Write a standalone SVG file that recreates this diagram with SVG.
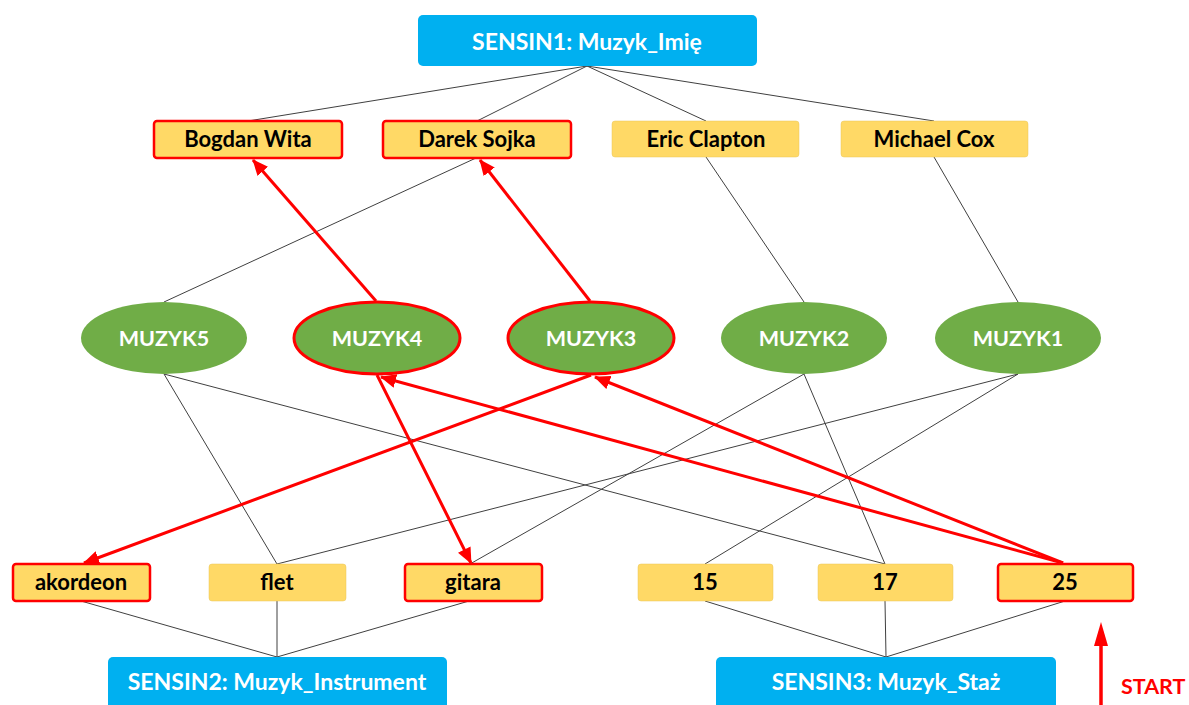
<svg xmlns="http://www.w3.org/2000/svg" width="1189" height="705" viewBox="0 0 1189 705">
  <defs>
    <style>
      .thin { stroke: #404040; stroke-width: 1; fill: none; }
      .path { stroke: #FF0000; stroke-width: 3; fill: none; marker-end: url(#arrow); }
      .sensin rect { fill: #00B0F0; }
      .sensin text { fill: #FFFFFF; font-family: Lato, "Open Sans", "Liberation Sans", sans-serif; font-weight: bold; font-size: 23px; text-anchor: middle; }
      .val rect { fill: #FFD966; stroke: #E8C45A; stroke-width: 0.5; }
      .val.hit rect { stroke: #FF0000; stroke-width: 2.5; }
      .val text { fill: #000000; font-family: Lato, "Open Sans", "Liberation Sans", sans-serif; font-weight: bold; font-size: 22px; text-anchor: middle; }
      .obj ellipse { fill: #70AD47; }
      .obj.hit ellipse { stroke: #FF0000; stroke-width: 3; }
      .obj text { fill: #FFFFFF; font-family: Lato, "Open Sans", "Liberation Sans", sans-serif; font-weight: bold; font-size: 21.5px; text-anchor: middle; }
    </style>
    <marker id="arrow" markerUnits="userSpaceOnUse" markerWidth="16" markerHeight="14" refX="15" refY="7" orient="auto">
      <path d="M0,0 L16,7 L0,14 z" fill="#FF0000"/>
    </marker>
  </defs>
  <rect width="1189" height="705" fill="#FFFFFF"/>

  <!-- connectors -->
  <g id="connectors">
    <!-- SENSIN1 to names -->
    <line class="thin" x1="587" y1="66" x2="248" y2="121"/>
    <line class="thin" x1="587" y1="66" x2="477" y2="121"/>
    <line class="thin" x1="587" y1="66" x2="706" y2="121"/>
    <line class="thin" x1="587" y1="66" x2="934" y2="121"/>
    <!-- names to musicians -->
    <line class="thin" x1="476" y1="158" x2="164" y2="302"/>
    <line class="thin" x1="706" y1="157" x2="804" y2="302"/>
    <line class="thin" x1="934" y1="157" x2="1018" y2="302"/>
    <!-- musicians to values -->
    <line class="thin" x1="164" y1="374" x2="277" y2="564"/>
    <line class="thin" x1="164" y1="374" x2="885" y2="564"/>
    <line class="thin" x1="804" y1="374" x2="470" y2="564"/>
    <line class="thin" x1="804" y1="374" x2="885" y2="564"/>
    <line class="thin" x1="1018" y1="374" x2="277" y2="564"/>
    <line class="thin" x1="1018" y1="374" x2="705" y2="564"/>
    <!-- values to SENSIN2 / SENSIN3 -->
    <line class="thin" x1="81" y1="601" x2="277" y2="657"/>
    <line class="thin" x1="277" y1="601" x2="277" y2="657"/>
    <line class="thin" x1="469" y1="601" x2="277" y2="657"/>
    <line class="thin" x1="705" y1="601" x2="886" y2="657"/>
    <line class="thin" x1="885" y1="601" x2="886" y2="657"/>
    <line class="thin" x1="1065" y1="601" x2="886" y2="657"/>
    <!-- activation paths -->
    <line class="path" x1="1063" y1="563" x2="381" y2="377"/>
    <line class="path" x1="1063" y1="563" x2="595" y2="377"/>
    <line class="path" x1="377" y1="375" x2="471" y2="563"/>
    <line class="path" x1="591" y1="375" x2="84" y2="563"/>
    <line class="path" x1="376" y1="301" x2="253" y2="160"/>
    <line class="path" x1="590" y1="301" x2="480" y2="160"/>
    <!-- start marker -->
    <line x1="1101" y1="705" x2="1101" y2="644" stroke="#FF0000" stroke-width="3.5"/>
    <polygon points="1101,622 1108,646 1094,646" fill="#FF0000"/>
  </g>

  <!-- sensor inputs -->
  <g id="sensin1" class="sensin">
    <rect x="418" y="15" width="339" height="51" rx="5"/>
    <text x="587" y="50">SENSIN1: Muzyk_Imię</text>
  </g>
  <g id="sensin2" class="sensin">
    <rect x="108" y="657" width="339" height="60" rx="5"/>
    <text x="277" y="690">SENSIN2: Muzyk_Instrument</text>
  </g>
  <g id="sensin3" class="sensin">
    <rect x="716" y="657" width="340" height="60" rx="5"/>
    <text x="886" y="690">SENSIN3: Muzyk_Staż</text>
  </g>

  <!-- names -->
  <g id="name-bogdan" class="val hit">
    <rect x="154" y="121" width="188" height="37" rx="3"/>
    <text x="248" y="147">Bogdan Wita</text>
  </g>
  <g id="name-darek" class="val hit">
    <rect x="383" y="121" width="188" height="37" rx="3"/>
    <text x="477" y="147">Darek Sojka</text>
  </g>
  <g id="name-eric" class="val">
    <rect x="612" y="121" width="187" height="36" rx="3"/>
    <text x="706" y="147">Eric Clapton</text>
  </g>
  <g id="name-michael" class="val">
    <rect x="841" y="121" width="187" height="36" rx="3"/>
    <text x="934" y="147">Michael Cox</text>
  </g>

  <!-- musicians -->
  <g id="muzyk5" class="obj">
    <ellipse cx="164" cy="338" rx="83" ry="36"/>
    <text x="164" y="346">MUZYK5</text>
  </g>
  <g id="muzyk4" class="obj hit">
    <ellipse cx="377" cy="338" rx="83" ry="36"/>
    <text x="377" y="346">MUZYK4</text>
  </g>
  <g id="muzyk3" class="obj hit">
    <ellipse cx="591" cy="338" rx="83" ry="36"/>
    <text x="591" y="346">MUZYK3</text>
  </g>
  <g id="muzyk2" class="obj">
    <ellipse cx="804" cy="338" rx="83" ry="36"/>
    <text x="804" y="346">MUZYK2</text>
  </g>
  <g id="muzyk1" class="obj">
    <ellipse cx="1018" cy="338" rx="83" ry="36"/>
    <text x="1018" y="346">MUZYK1</text>
  </g>

  <!-- instruments -->
  <g id="inst-akordeon" class="val hit">
    <rect x="13" y="564" width="137" height="37" rx="3"/>
    <text x="81" y="590">akordeon</text>
  </g>
  <g id="inst-flet" class="val">
    <rect x="209" y="564" width="137" height="37" rx="3"/>
    <text x="277" y="590">flet</text>
  </g>
  <g id="inst-gitara" class="val hit">
    <rect x="405" y="564" width="137" height="37" rx="3"/>
    <text x="473" y="590">gitara</text>
  </g>

  <!-- seniority -->
  <g id="staz-15" class="val">
    <rect x="638" y="564" width="135" height="37" rx="3"/>
    <text x="705" y="590">15</text>
  </g>
  <g id="staz-17" class="val">
    <rect x="818" y="564" width="135" height="37" rx="3"/>
    <text x="885" y="590">17</text>
  </g>
  <g id="staz-25" class="val hit">
    <rect x="998" y="564" width="135" height="37" rx="3"/>
    <text x="1065" y="590">25</text>
  </g>

  <g id="start">
    <text x="1121" y="694" fill="#FF0000" font-family="Lato, 'Open Sans', 'Liberation Sans', sans-serif" font-weight="bold" font-size="21.5">START</text>
  </g>
</svg>
